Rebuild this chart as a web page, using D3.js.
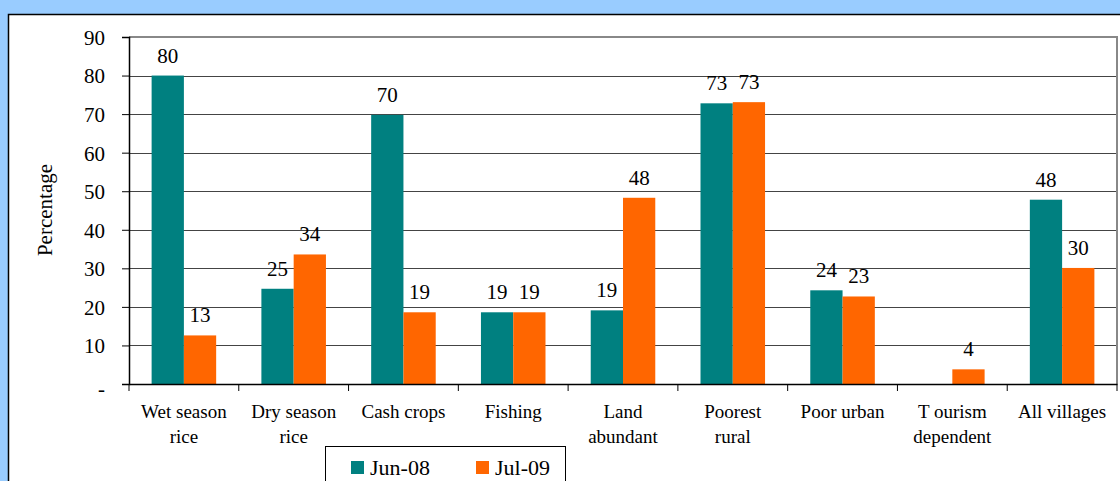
<!DOCTYPE html>
<html><head><meta charset="utf-8">
<script src="https://cdn.jsdelivr.net/npm/d3@7"></script>
<style>html,body{margin:0;padding:0;background:#99CCFF;overflow:hidden}</style>
</head><body>
<svg id="c" width="1120" height="481"></svg>
<script>
const categories = [["Wet season","rice"],["Dry season","rice"],["Cash crops"],["Fishing"],["Land","abundant"],["Poorest","rural"],["Poor urban"],["T ourism","dependent"],["All villages"]];
const seriesNames = ["Jun-08","Jul-09"];
const jun08 = [80, 24.7, 69.8, 18.6, 19.1, 72.8, 24.3, null, 47.8];
const jul09 = [12.6, 33.6, 18.6, 18.6, 48.3, 73.1, 22.7, 3.8, 30.1];
const yTicks = [0,10,20,30,40,50,60,70,80,90];
const colors = ["#008080","#FF6600"];
const font = "Liberation Serif, Times New Roman, serif";

const svg = d3.select("#c");
svg.append("rect").attr("x",0).attr("y",0).attr("width",1120).attr("height",481).attr("fill","#99CCFF");
svg.append("rect").attr("x",8.5).attr("y",14.5).attr("width",1200).attr("height",600).attr("fill","#fff").attr("stroke","#000").attr("stroke-width",1.5);

const L=129, R=1117, T=37, B=384;
const x = d3.scaleBand().domain(d3.range(categories.length)).range([L,R]).paddingInner(0).paddingOuter(0);
const y = d3.scaleLinear().domain([0,90]).range([B,T]);
const bw = x.bandwidth()*0.294;

svg.append("g").selectAll("line").data(yTicks.filter(d=>d>0&&d<90)).join("line")
  .attr("x1",L).attr("x2",R).attr("y1",d=>Math.round(y(d))+0.5).attr("y2",d=>Math.round(y(d))+0.5)
  .attr("stroke","#444").attr("stroke-width",1);
svg.append("path").attr("d",`M${L},${y(90)}H${R}V${B}`).attr("fill","none").attr("stroke","#888").attr("stroke-width",2);

const series=[jun08,jul09];
series.forEach((s,si)=>{
  const dd = s.map((v,i)=>({v,i})).filter(d=>d.v!=null);
  svg.append("g").selectAll("rect").data(dd).join("rect")
    .attr("x",d=>x(d.i)+x.bandwidth()/2-bw+si*bw).attr("width",bw)
    .attr("y",d=>y(d.v)).attr("height",d=>B-y(d.v)).attr("fill",colors[si]);
  svg.append("g").selectAll("text").data(dd).join("text")
    .attr("x",d=>x(d.i)+x.bandwidth()/2-bw/2+si*bw).attr("y",d=>y(d.v)-13)
    .attr("text-anchor","middle").attr("font-family",font).attr("font-size",21).attr("fill","#000")
    .text(d=>Math.round(d.v));
});

const ya = svg.append("g").attr("transform",`translate(${L},0)`)
  .call(d3.axisLeft(y).tickValues(yTicks).tickSize(7).tickPadding(17).tickFormat(d=>d===0?"-":d));
ya.select(".domain").attr("stroke","#000").attr("stroke-width",1.5);
ya.selectAll(".tick line").attr("stroke","#000");
ya.selectAll("text").attr("font-family",font).attr("font-size",21).attr("fill","#000").attr("dy","0.35em");
ya.selectAll(".tick").filter(d=>d===0).select("text").attr("dy","0.55em");

const xa = svg.append("g").attr("transform",`translate(0,${B})`)
  .call(d3.axisBottom(x).tickSize(0).tickFormat(""));
xa.select(".domain").attr("stroke","#000").attr("stroke-width",1.5);
svg.append("g").selectAll("line").data(d3.range(categories.length+1)).join("line")
  .attr("x1",i=>L+i*x.step()).attr("x2",i=>L+i*x.step()).attr("y1",B).attr("y2",B+7).attr("stroke","#000");
const xl = svg.append("g").selectAll("text").data(categories).join("text")
  .attr("x",(d,i)=>x(i)+x.bandwidth()/2).attr("y",418)
  .attr("text-anchor","middle").attr("font-family",font).attr("font-size",19).attr("fill","#000");
xl.selectAll("tspan").data(d=>d).join("tspan")
  .attr("x",function(){return this.parentNode.getAttribute("x");}).attr("dy",(d,i)=>i===0?0:25).text(d=>d);

svg.append("text").attr("transform","translate(52,210) rotate(-90)").attr("text-anchor","middle")
  .attr("font-family",font).attr("font-size",21).attr("fill","#000").text("Percentage");

svg.append("rect").attr("x",325.5).attr("y",446.5).attr("width",240).attr("height",60).attr("fill","#fff").attr("stroke","#000").attr("stroke-width",1);
const lx=[351,476];
seriesNames.forEach((n,i)=>{
  svg.append("rect").attr("x",lx[i]).attr("y",461).attr("width",13).attr("height",13).attr("fill",colors[i]);
  svg.append("text").attr("x",lx[i]+19).attr("y",475).attr("font-family",font).attr("font-size",22).attr("fill","#000").text(n);
});
</script>
</body></html>
